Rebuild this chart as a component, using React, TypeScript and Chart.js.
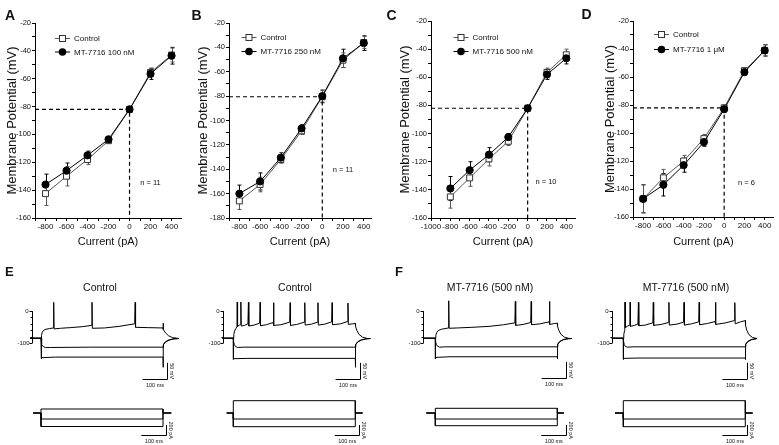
import React, { useEffect, useRef } from 'react';
import { Chart, registerables } from 'chart.js';
Chart.register(...registerables);

const FONT = "'Liberation Sans', Arial, Helvetica, sans-serif";

// ---------------- I-V data (panels A-D) ----------------
const currentSteps = [-800, -600, -400, -200, 0, 200, 400];

const aControl = [-142.5, -130, -118, -104.5, -82, -55.5, -43];
const aControlSem = [8.5, 7, 3.5, 1.5, 1, 3, 5];
const aDrug = [-136, -126, -115, -103.5, -82, -56.5, -43.5];
const aDrugSem = [7.5, 5.5, 3, 1.5, 1, 4, 6];

const bControl = [-166, -152.5, -132, -108.5, -80.5, -50.5, -36];
const bControlSem = [7, 6, 3, 3, 5, 6, 5];
const bDrug = [-160, -150, -130.5, -106.5, -80, -49, -36.5];
const bDrugSem = [7, 7, 4, 3, 5, 7.5, 6];

const cControl = [-145, -131.5, -118, -105.5, -82, -56.5, -44];
const cControlSem = [8, 6, 5, 3, 1, 3, 4];
const cDrug = [-139, -126, -115, -102.5, -82, -58, -46.5];
const cDrugSem = [8.5, 6, 5, 2.5, 1, 3.5, 4];

const dControl = [-147, -132, -120, -104, -82, -55.5, -41];
const dControlSem = [10, 6, 4, 3, 2, 2, 4];
const dDrug = [-147, -137, -123, -106.5, -83, -56.5, -41];
const dDrugSem = [10, 8, 5, 3, 2, 2, 4];

const drugLabels = ['MT-7716 100 nM', 'MT-7716 250 nM', 'MT-7716 500 nM', 'MT-7716 1 \u03BCM'];
const nLabels = ['n = 11', 'n = 11', 'n = 10', 'n = 6'];
const panelLetters = ['A', 'B', 'C', 'D', 'E', 'F'];

// ---------------- Voltage traces (panels E, F) [ms, mV] ----------------
const e1Depol = [[-45,-85],[0,-85],[2,-76],[5,-67],[10,-61],[20,-57],[35,-55],[50,-53],[52,27],[53.5,-56],[80,-54],[120,-52],[170,-49],[207,-45],[209,27],[210.5,-54],[260,-53],[320,-48],[384,-40],[386,27],[387.5,-51],[440,-52],[500,-53],[500.5,-38],[502,-58],[510,-68],[522,-77],[538,-83],[565,-86]];
const e1Hyper1 = [[-45,-85],[0,-85],[1,-95],[4,-105],[9,-111],[18,-114],[40,-114],[200,-113],[500,-113],[502,-104],[510,-96],[525,-90],[545,-87],[565,-86]];
const e1Hyper2 = [[-45,-85],[0,-85],[0.5,-150],[3,-146],[60,-144],[500,-144],[500.5,-176],[501.5,-106],[510,-97],[525,-91],[545,-87],[565,-86]];

const e2Depol = [[-45,-85],[0,-85],[2,-74],[5,-63],[10,-55],[15,-50],[16,28],[17.5,-48],[25,-44],[30,-42],[31,28],[32.5,-47],[45,-45],[60,-40],[62,27],[63.5,-47],[85,-44],[108,-38],[110,27],[111.5,-46],[135,-43],[163,-36],[165,26],[166.5,-45],[195,-43],[231,-35],[233,26],[234.5,-45],[260,-42],[291,-35],[293,26],[294.5,-44],[320,-41],[345,-35],[347,26],[348.5,-44],[375,-41],[403,-34],[405,26],[406.5,-43],[440,-40],[468,-33],[470,25],[471.5,-42],[490,-40],[500,-39],[501,-48],[506,-60],[515,-73],[530,-82],[550,-86],[562,-86]];
const e2Hyper1 = [[-45,-85],[0,-85],[1,-95],[4,-105],[9,-111],[18,-114],[40,-113],[500,-113],[502,-104],[510,-96],[525,-90],[545,-87],[562,-86]];
const e2Hyper2 = [[-45,-85],[0,-85],[0.5,-151],[3,-149],[60,-148],[500,-148],[500.5,-176],[501.5,-106],[510,-97],[525,-91],[545,-87],[562,-86]];

const f1Depol = [[-50,-85],[0,-85],[2,-76],[6,-67],[12,-61],[25,-57],[40,-55],[54,-53],[55,32],[56.5,-54],[90,-53],[150,-51],[220,-48],[280,-43],[326,-37],[328,30],[329.5,-45],[360,-42],[391,-36],[393,30],[394.5,-43],[430,-40],[466,-34],[468,30],[469.5,-42],[490,-39],[500,-38],[501,-48],[506,-60],[515,-73],[530,-82],[550,-86],[560,-86]];
const f1Hyper1 = [[-50,-85],[0,-85],[1,-95],[4,-104],[9,-110],[18,-113],[40,-112],[500,-112],[502,-103],[510,-95],[525,-89],[545,-86],[560,-86]];
const f1Hyper2 = [[-50,-85],[0,-85],[0.5,-150],[3,-145],[60,-143],[500,-143],[500.5,-150],[501.5,-105],[510,-96],[525,-90],[545,-87],[560,-86]];

const f2Depol = [[-47,-85],[0,-85],[2,-73],[5,-62],[6,-58],[7,28],[8.5,-52],[18,-47],[27,-44],[28,28],[29.5,-48],[45,-45],[60,-41],[62,27],[63.5,-46],[90,-44],[121,-37],[123,27],[124.5,-45],[155,-42],[185,-36],[187,27],[188.5,-44],[220,-41],[247,-35],[249,27],[250.5,-44],[280,-40],[309,-34],[311,27],[312.5,-43],[345,-39],[376,-33],[378,27],[379.5,-42],[420,-37],[455,-30],[457,26],[458.5,-40],[480,-34],[500,-30],[501,-45],[506,-60],[515,-74],[530,-83],[548,-86]];
const f2Hyper1 = [[-47,-85],[0,-85],[1,-95],[4,-105],[9,-111],[18,-113],[40,-112],[500,-112],[502,-103],[510,-95],[525,-89],[548,-86]];
const f2Hyper2 = [[-47,-85],[0,-85],[0.5,-151],[3,-148],[60,-147],[500,-147],[500.5,-152],[501.5,-105],[510,-96],[525,-90],[548,-86]];

// ---------------- Injected current steps [ms, pA] ----------------
const e1Steps = [
  [[-32,0],[0,0],[0,80],[500,80],[500,0],[534,0]],
  [[-32,0],[0,0],[0,-120],[500,-120],[500,0],[534,0]],
  [[-32,0],[0,0],[0,-270],[500,-270],[500,0],[534,0]],
];
const e2Steps = [
  [[-27,0],[0,0],[0,246],[500,246],[500,0],[530,0]],
  [[-27,0],[0,0],[0,-120],[500,-120],[500,0],[530,0]],
  [[-27,0],[0,0],[0,-274],[500,-274],[500,0],[530,0]],
];
const f1Steps = [
  [[-37,0],[0,0],[0,94],[500,94],[500,0],[527,0]],
  [[-37,0],[0,0],[0,-120],[500,-120],[500,0],[527,0]],
  [[-37,0],[0,0],[0,-254],[500,-254],[500,0],[527,0]],
];
const f2Steps = [
  [[-34,0],[0,0],[0,246],[500,246],[500,0],[530,0]],
  [[-34,0],[0,0],[0,-120],[500,-120],[500,0],[530,0]],
  [[-34,0],[0,0],[0,-274],[500,-274],[500,0],[530,0]],
];

const traceTitles = ['Control', 'Control', 'MT-7716 (500 nM)', 'MT-7716 (500 nM)'];
const mvAxisTicks = [0, -20, -40, -60, -80, -100];
const mvAxisLabels = ['0', '-100'];

// ---------------- plugins ----------------
function ivDecor(p: any) {
  return {
    id: 'ivDecor',
    beforeDatasetsDraw(chart: any) {
      const ctx = chart.ctx;
      const ys = chart.scales.y;
      chart.data.datasets.forEach((ds: any, i: number) => {
        if (!ds.sem) return;
        const meta = chart.getDatasetMeta(i);
        ctx.save();
        ctx.strokeStyle = ds.borderColor;
        ctx.lineWidth = 1;
        meta.data.forEach((pt: any, j: number) => {
          const v = ds.data[j].y, e = ds.sem[j];
          const yT = ys.getPixelForValue(v + e), yB = ys.getPixelForValue(v - e);
          const x = Math.round(pt.x) + 0.5;
          ctx.beginPath();
          ctx.moveTo(x, yT); ctx.lineTo(x, yB);
          ctx.moveTo(x - 2, yT); ctx.lineTo(x + 2, yT);
          ctx.moveTo(x - 2, yB); ctx.lineTo(x + 2, yB);
          ctx.stroke();
        });
        ctx.restore();
      });
    },
    afterDatasetsDraw(chart: any) {
      const ctx = chart.ctx;
      const xs = chart.scales.x, ys = chart.scales.y;
      ctx.save();
      ctx.font = `7.5px ${FONT}`;
      ctx.fillStyle = '#111';
      ctx.textAlign = 'center';
      ctx.textBaseline = 'middle';
      ctx.fillText(p.nText, xs.getPixelForValue(p.nAt[0]), ys.getPixelForValue(p.nAt[1]));
      // legend
      ctx.font = `8px ${FONT}`;
      const items = chart.data.datasets.filter((d: any) => d.label).slice().reverse();
      items.forEach((d: any, k: number) => {
        const x0 = p.legendAt[0], y = p.legendAt[1] + k * p.legendGap;
        ctx.strokeStyle = d.borderColor;
        ctx.lineWidth = 1;
        ctx.beginPath();
        ctx.moveTo(x0, y); ctx.lineTo(x0 + 15, y);
        ctx.stroke();
        const cx = x0 + 7.5;
        if (d.pointStyle === 'rect') {
          ctx.fillStyle = '#fff';
          ctx.fillRect(cx - 3, y - 3, 6, 6);
          ctx.strokeStyle = d.pointBorderColor;
          ctx.strokeRect(cx - 3, y - 3, 6, 6);
        } else {
          ctx.fillStyle = '#000';
          ctx.beginPath();
          ctx.arc(cx, y, 3.8, 0, Math.PI * 2);
          ctx.fill();
        }
        ctx.fillStyle = '#111';
        ctx.textAlign = 'left';
        ctx.fillText(d.label, x0 + 19, y + 0.5);
      });
      ctx.restore();
    },
  };
}

function traceDecor(p: any) {
  return {
    id: 'traceDecor',
    afterDatasetsDraw(chart: any) {
      const ctx = chart.ctx;
      const xs = chart.scales.x, ys = chart.scales.y;
      ctx.save();
      ctx.strokeStyle = '#000';
      ctx.fillStyle = '#111';
      ctx.lineWidth = 1;
      if (p.title) {
        ctx.font = `10.5px ${FONT}`;
        ctx.textAlign = 'center';
        ctx.textBaseline = 'alphabetic';
        ctx.fillText(p.title, p.titleX, p.titleY);
      }
      if (p.axisT !== undefined) {
        const ax = Math.round(xs.getPixelForValue(p.axisT)) + 0.5;
        const t0 = ys.getPixelForValue(mvAxisTicks[0]);
        const t1 = ys.getPixelForValue(mvAxisTicks[mvAxisTicks.length - 1]);
        ctx.beginPath();
        ctx.moveTo(ax, t0); ctx.lineTo(ax, t1);
        mvAxisTicks.forEach((v) => {
          const y = Math.round(ys.getPixelForValue(v)) + 0.5;
          const major = v === 0 || v === -100;
          ctx.moveTo(ax - (major ? 3 : 2), y); ctx.lineTo(ax, y);
        });
        ctx.stroke();
        ctx.font = `6px ${FONT}`;
        ctx.textAlign = 'right';
        ctx.textBaseline = 'middle';
        ctx.fillText(mvAxisLabels[0], ax - 4, ys.getPixelForValue(0));
        ctx.fillText(mvAxisLabels[1], ax - 3, ys.getPixelForValue(-100));
      }
      const b = p.bar;
      const xR = Math.round(xs.getPixelForValue(b.t)) + 0.5;
      const xL = xs.getPixelForValue(b.t - b.dt);
      const yB = Math.round(ys.getPixelForValue(b.v)) + 0.5;
      const yT = ys.getPixelForValue(b.v + b.dv);
      ctx.beginPath();
      ctx.moveTo(xL, yB); ctx.lineTo(xR, yB); ctx.lineTo(xR, yT);
      ctx.stroke();
      ctx.font = `5.5px ${FONT}`;
      ctx.textAlign = 'center';
      ctx.textBaseline = 'top';
      ctx.fillText(b.xLabel, (xL + xR) / 2, yB + 3);
      ctx.save();
      ctx.translate(xR + 4, (yB + yT) / 2);
      ctx.rotate(Math.PI / 2);
      ctx.textBaseline = 'middle';
      ctx.fillText(b.yLabel, 0, 0);
      ctx.restore();
      ctx.restore();
    },
  };
}

// ---------------- config builders ----------------
function stepTicks(min: number, max: number, step: number) {
  const out: any[] = [];
  for (let v = Math.ceil(min / step) * step; v <= max + 1e-9; v += step) out.push({ value: v });
  return out;
}

function makeIVConfig(p: any) {
  const v0 = p.control[currentSteps.indexOf(0)];
  const pts = (arr: number[]) => currentSteps.map((x, i) => ({ x, y: arr[i] }));
  return {
    type: 'line',
    data: {
      datasets: [
        { label: p.drugLabel, data: pts(p.drug), sem: p.drugSem, borderColor: '#000', backgroundColor: '#000', pointStyle: 'circle', pointRadius: 3.6, pointBorderWidth: 1, pointBackgroundColor: '#000', pointBorderColor: '#000', borderWidth: 1, tension: 0 },
        { label: 'Control', data: pts(p.control), sem: p.controlSem, borderColor: '#555', backgroundColor: '#fff', pointStyle: 'rect', pointRadius: 4.2, pointBorderWidth: 1, pointBackgroundColor: '#fff', pointBorderColor: '#333', borderWidth: 1, tension: 0 },
        { label: '', data: [{ x: p.xMin, y: v0 }, { x: 0, y: v0 }, { x: 0, y: p.yMin }], borderColor: '#000', borderDash: [4, 3], borderWidth: 1.2, pointRadius: 0, tension: 0 },
      ],
    },
    options: {
      animation: false,
      responsive: false,
      devicePixelRatio: 1,
      events: [],
      layout: { padding: { top: p.padTop, right: p.padRight, left: 0, bottom: 0 } },
      plugins: { legend: { display: false }, tooltip: { enabled: false } },
      scales: {
        x: {
          type: 'linear', min: p.xMin, max: p.xMax,
          border: { display: true, color: '#000', width: 1 },
          grid: { drawOnChartArea: false, drawTicks: true, tickLength: 3, tickColor: '#000' },
          ticks: { autoSkip: false, includeBounds: false, maxRotation: 0, minRotation: 0, padding: 1, color: '#111', font: { size: 8, family: FONT },
            callback: (v: any) => (Math.round(v) % 200 === 0 ? String(Math.round(v)) : '') },
          afterBuildTicks: (s: any) => { s.ticks = stepTicks(p.xMin, p.xMax, 100); },
          afterFit: (s: any) => { s.height = p.xAxisH; },
          title: { display: true, text: 'Current (pA)', color: '#111', font: { size: 11, family: FONT, lineHeight: 1 }, padding: { top: 0, bottom: 3 } },
        },
        y: {
          type: 'linear', min: p.yMin, max: p.yMax,
          border: { display: true, color: '#000', width: 1 },
          grid: { drawOnChartArea: false, drawTicks: true, tickLength: 3, tickColor: '#000' },
          ticks: { autoSkip: false, includeBounds: false, padding: 1, color: '#111', font: { size: 7.5, family: FONT },
            callback: (v: any) => (Math.round(v) % 20 === 0 ? String(Math.round(v)) : '') },
          afterBuildTicks: (s: any) => { s.ticks = stepTicks(p.yMin, p.yMax, 10); },
          afterFit: (s: any) => { s.width = p.yAxisW; },
          title: { display: true, text: 'Membrane Potential (mV)', color: '#111', font: { size: 13, family: FONT, lineHeight: 1 }, padding: { top: p.titlePad, bottom: 0 } },
        },
      },
    },
    plugins: [ivDecor(p)],
  };
}

const MS_PX = 0.244; // px per ms
function makeTraceConfig(traces: number[][][], xMin: number, xMax: number, yMin: number, yMax: number, deco: any) {
  return {
    type: 'line',
    data: {
      datasets: traces.map((tr) => ({
        data: tr.map(([x, y]) => ({ x, y })),
        borderColor: '#000', borderWidth: 1, pointRadius: 0, tension: 0, fill: false, borderJoinStyle: 'round',
      })),
    },
    options: {
      animation: false, responsive: false, devicePixelRatio: 1, events: [],
      layout: { padding: 0 },
      plugins: { legend: { display: false }, tooltip: { enabled: false } },
      scales: {
        x: { type: 'linear', display: false, min: xMin, max: xMax },
        y: { type: 'linear', display: false, min: yMin, max: yMax },
      },
    },
    plugins: [traceDecor(deco)],
  };
}

function ChartBox({ left, top, width, height, make }: any) {
  const ref = useRef<HTMLCanvasElement>(null);
  useEffect(() => {
    const chart = new Chart(ref.current as HTMLCanvasElement, make());
    return () => chart.destroy();
  }, []);
  return (
    <canvas ref={ref} width={width} height={height}
      style={{ position: 'absolute', left, top, width, height, display: 'block' }} />
  );
}

// ---------------- layout tables ----------------
const ivPanels = [
  { left: 0, width: 190, yAxisW: 35, titlePad: 6, padRight: 9, padTop: 23, xAxisH: 32, xMin: -900, xMax: 490, yMin: -160, yMax: -20,
    control: aControl, controlSem: aControlSem, drug: aDrug, drugSem: aDrugSem, drugLabel: drugLabels[0], nText: nLabels[0], nAt: [200, -135], legendAt: [55, 38.5], legendGap: 13.5 },
  { left: 190, width: 190, yAxisW: 39, titlePad: 6.5, padRight: 9, padTop: 23, xAxisH: 32, xMin: -900, xMax: 470, yMin: -180, yMax: -20,
    control: bControl, controlSem: bControlSem, drug: bDrug, drugSem: bDrugSem, drugLabel: drugLabels[1], nText: nLabels[1], nAt: [200, -140.5], legendAt: [51.5, 37.5], legendGap: 14 },
  { left: 392, width: 193, yAxisW: 39, titlePad: 6.5, padRight: 10, padTop: 21, xAxisH: 32, xMin: -1000, xMax: 490, yMin: -160, yMax: -20,
    control: cControl, controlSem: cControlSem, drug: cDrug, drugSem: cDrugSem, drugLabel: drugLabels[2], nText: nLabels[2], nAt: [190, -134.5], legendAt: [61.5, 37.5], legendGap: 14 },
  { left: 597, width: 182, yAxisW: 36, titlePad: 6.5, padRight: 2, padTop: 21, xAxisH: 33, xMin: -900, xMax: 490, yMin: -160, yMax: -20,
    control: dControl, controlSem: dControlSem, drug: dDrug, drugSem: dDrugSem, drugLabel: drugLabels[3], nText: nLabels[3], nAt: [220, -136], legendAt: [57, 34.5], legendGap: 15 },
];

const tracePanels = [
  { stepX: 41, axisT: -38, v: [e1Depol, e1Hyper1, e1Hyper2], i: e1Steps, vBar: [516, -212], iBar: [511, -440], title: traceTitles[0], titleX: 100 },
  { stepX: 233.3, axisT: -43, v: [e2Depol, e2Hyper1, e2Hyper2], i: e2Steps, vBar: [519, -212], iBar: [516, -440], title: traceTitles[1], titleX: 295 },
  { stepX: 435.3, axisT: -50, v: [f1Depol, f1Hyper1, f1Hyper2], i: f1Steps, vBar: [536, -209], iBar: [534, -440], title: traceTitles[2], titleX: 490 },
  { stepX: 623.3, axisT: -47, v: [f2Depol, f2Hyper1, f2Hyper2], i: f2Steps, vBar: [506, -212], iBar: [506, -440], title: traceTitles[3], titleX: 686 },
];

const letterPos = [[5, 7.5], [191.5, 8.2], [386.5, 8.2], [581.5, 6.5], [5, 265], [395, 265]];

export default function App() {
  useEffect(() => { document.body.style.margin = '0'; }, []);
  const TW = 186, VTOP = 272, VH = 118, ITOP = 395, IH = 50;
  const MV_PX = 0.32, PA_PX = 0.05;
  return (
    <div style={{ position: 'fixed', left: 0, top: 0, width: 779, height: 445, background: '#fff', overflow: 'hidden', fontFamily: FONT, color: '#111' }}>
      {ivPanels.map((p, k) => (
        <ChartBox key={'iv' + k} left={p.left} top={0} width={p.width} height={250} make={() => makeIVConfig(p)} />
      ))}
      {tracePanels.map((p, k) => {
        const left = Math.round(p.stepX - 150 * MS_PX);
        const xMin = (left - p.stepX) / MS_PX;
        const xMax = xMin + TW / MS_PX;
        const vMax = (311 - VTOP) / MV_PX;
        const vMin = vMax - VH / MV_PX;
        const iMax = (413 - ITOP) / PA_PX;
        const iMin = iMax - IH / PA_PX;
        return (
          <React.Fragment key={'tr' + k}>
            <ChartBox left={left} top={VTOP} width={TW} height={VH}
              make={() => makeTraceConfig(p.v, xMin, xMax, vMin, vMax,
                { axisT: p.axisT, title: p.title, titleX: p.titleX - left, titleY: 291 - VTOP,
                  bar: { t: p.vBar[0], v: p.vBar[1], dt: 100, dv: 50, xLabel: '100 ms', yLabel: '50 mV' } })} />
            <ChartBox left={left} top={ITOP} width={TW} height={IH}
              make={() => makeTraceConfig(p.i, xMin, xMax, iMin, iMax,
                { bar: { t: p.iBar[0], v: p.iBar[1], dt: 100, dv: 200, xLabel: '100 ms', yLabel: '200 pA' } })} />
          </React.Fragment>
        );
      })}
      {panelLetters.map((L, k) => (
        <div key={'L' + k} style={{ position: 'absolute', left: letterPos[k][0], top: letterPos[k][1], fontSize: k < 4 ? 14 : 13, fontWeight: 'bold', lineHeight: 1, color: '#111' }}>{L}</div>
      ))}
    </div>
  );
}
